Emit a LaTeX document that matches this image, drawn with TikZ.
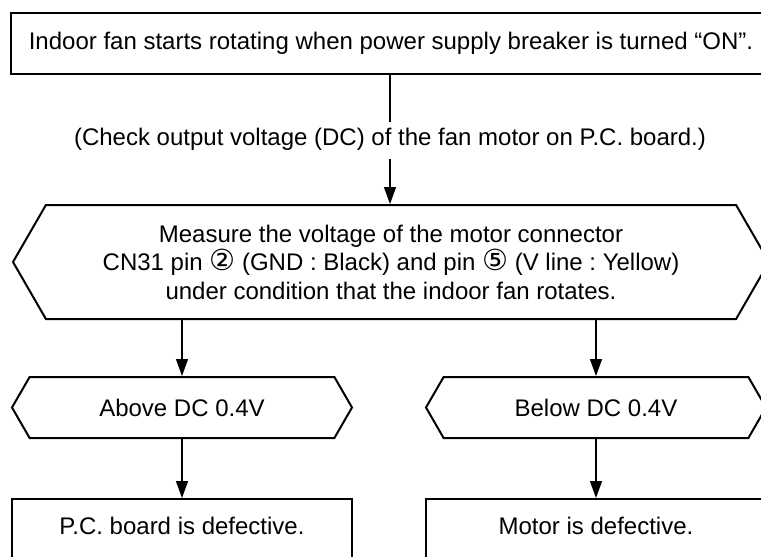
\documentclass[tikz,border=0pt]{standalone}
\usepackage{fontspec}
\setmainfont{Liberation Sans}
\newfontfamily\circfont{DejaVu Sans}
\usetikzlibrary{arrows.meta,shapes.symbols}
\newcommand{\pinno}[1]{{\circfont\fontsize{29}{29}\selectfont #1}}
\newcommand{\flowfont}{\fontsize{24}{28.5}\selectfont\frenchspacing}
\tikzset{
  flowbox/.style={draw,line width=2.4pt,rectangle,inner sep=0pt,font=\flowfont},
  hexbox/.style={draw,line width=2pt,signal,signal to=west and east,signal pointer angle=120,inner sep=0pt,font=\flowfont,align=center},
  flowline/.style={line width=1.3pt},
  flowarrow/.style={flowline,-{Triangle[length=17pt,width=12pt]}}
}
\begin{document}
\begin{tikzpicture}[x=1pt,y=-1pt]
      \useasboundingbox (0,0) rectangle (761,557);
      \clip (0,0) rectangle (761,557);
      \node[flowbox,minimum width=760pt,minimum height=61pt] (start) at (391,43.5) {Indoor fan starts rotating when power supply breaker is turned “ON”.};
      \node[font=\flowfont,inner sep=0pt,text height=23.5pt,text depth=13.5pt,anchor=base] (check) at (390,145.5) {(Check output voltage (DC) of the fan motor on P.C. board.)};
      \node[hexbox,minimum width=756pt,minimum height=114pt] (measure) at (391,262) {Measure the voltage of the motor connector\\CN31 pin \pinno{②} (GND : Black) and pin \pinno{⑤} (V line : Yellow)\\under condition that the indoor fan rotates.};
      \node[hexbox,minimum width=340pt,minimum height=61pt] (above) at (182,407.5) {Above DC 0.4V};
      \node[hexbox,minimum width=340pt,minimum height=61pt] (below) at (596,407.5) {Below DC 0.4V};
      \node[flowbox,minimum width=340pt,text height=35.5pt,text depth=30pt,anchor=north] (pcb) at (182,498) {P.C. board is defective.};
      \node[flowbox,minimum width=340pt,text height=35.5pt,text depth=30pt,anchor=north] (motor) at (596,498) {Motor is defective.};
      \draw[flowline] (start.south -| check.north) -- (check.north);
      \draw[flowarrow] (check.south) -- (check.south |- measure.north);
      \draw[flowarrow] (above |- measure.south) -- (above.north);
      \draw[flowarrow] (below |- measure.south) -- (below.north);
      \draw[flowarrow] (above.south) -- (pcb.north);
      \draw[flowarrow] (below.south) -- (motor.north);
    \end{tikzpicture}
\end{document}
